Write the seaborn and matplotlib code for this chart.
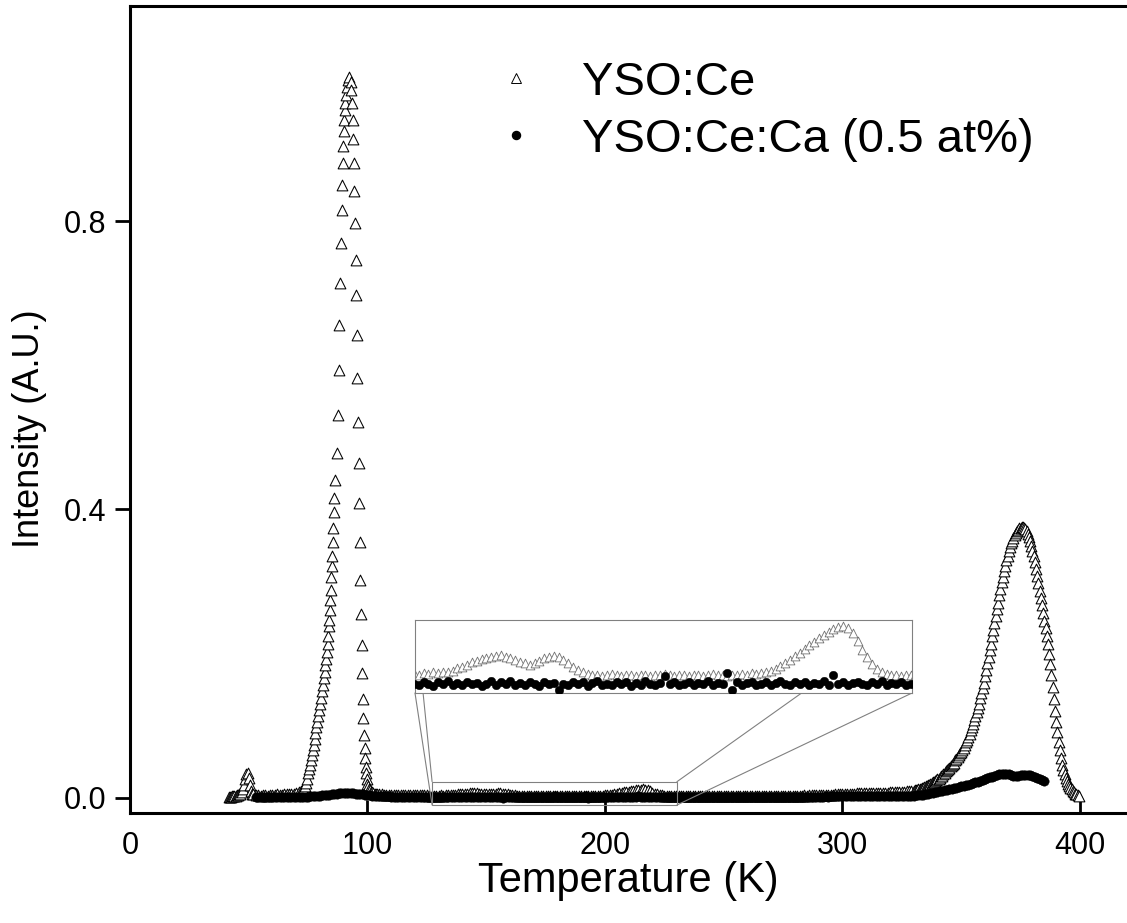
import numpy as np
import pandas as pd
import matplotlib
matplotlib.use("Agg")
import matplotlib.pyplot as plt
from matplotlib.lines import Line2D
from matplotlib.patches import Rectangle
import seaborn as sns

# ---------------- data ----------------
series_names = ["YSO:Ce", "YSO:Ce:Ca (0.5 at%)"]

# YSO:Ce (open triangles)
ce_T_a = np.arange(41.5, 52.01, 0.5)
ce_I_a = [0.002, 0.002, 0.002, 0.003, 0.003, 0.003, 0.003, 0.004, 0.004, 0.005, 0.006,
          0.008, 0.012, 0.018, 0.026, 0.033, 0.034, 0.028, 0.018, 0.010, 0.006, 0.005]
ce_T_b = np.arange(53, 73.01, 1.0)
ce_I_b = [0.004, 0.004, 0.003, 0.004, 0.004, 0.003, 0.004, 0.004, 0.004, 0.005, 0.004,
          0.004, 0.005, 0.005, 0.005, 0.006, 0.006, 0.007, 0.008, 0.010, 0.013]
ce_T_rise = [73.7, 74.1, 74.5, 74.9, 75.3, 75.7, 76.1, 76.5, 76.9, 77.3, 77.7, 78.1, 78.5,
             78.9, 79.3, 79.7, 80.1, 80.5, 80.9, 81.3, 81.7, 82.0, 82.3, 82.6, 82.9, 83.2,
             83.5, 83.8, 84.0, 84.2, 84.4, 84.6, 84.8, 85.0, 85.2, 85.4, 85.6, 85.8, 86.1,
             86.5, 87.1, 87.6, 87.9, 88.2, 88.5, 88.8, 89.1, 89.3, 89.5, 89.7, 89.9, 90.2,
             90.4, 90.6, 90.8, 91.2, 91.6, 92.3]
ce_I_rise = [0.016, 0.021, 0.027, 0.034, 0.040, 0.046, 0.053, 0.060, 0.067, 0.074, 0.082,
             0.090, 0.098, 0.106, 0.114, 0.122, 0.130, 0.139, 0.148, 0.157, 0.166, 0.175,
             0.184, 0.193, 0.203, 0.213, 0.224, 0.238, 0.247, 0.261, 0.275, 0.289, 0.306,
             0.322, 0.336, 0.355, 0.374, 0.396, 0.416, 0.441, 0.478, 0.531, 0.593, 0.656,
             0.714, 0.770, 0.815, 0.850, 0.880, 0.904, 0.925, 0.940, 0.954, 0.964, 0.975,
             0.986, 0.995, 1.000]
ce_T_fall = np.arange(93.0, 100.26, 0.25)
ce_I_fall = [0.993, 0.981, 0.964, 0.940, 0.914, 0.880, 0.841, 0.797, 0.746, 0.697,
             0.642, 0.582, 0.522, 0.464, 0.409, 0.355, 0.302, 0.255, 0.212, 0.173,
             0.137, 0.111, 0.087, 0.069, 0.055, 0.043, 0.034, 0.027, 0.020, 0.016]
ce_T_tail = np.arange(100.5, 104.01, 0.5)
ce_I_tail = [0.013, 0.011, 0.009, 0.008, 0.007, 0.006, 0.006, 0.005]
ce_T_base = np.arange(105, 329.01, 1.0)
ce_I_base = [
    # 105-126
    0.0050, 0.0049, 0.0048, 0.0046, 0.0045, 0.0044, 0.0042, 0.0041, 0.0040, 0.0040, 0.0039,
    0.0038, 0.0038, 0.0037, 0.0037, 0.0036, 0.0036, 0.0035, 0.0036, 0.0035, 0.0035, 0.0034,
    # 127-134
    0.0033, 0.0031, 0.0034, 0.0032, 0.0035, 0.0033, 0.0036, 0.0035,
    # 135-151
    0.0038, 0.0042, 0.0045, 0.0049, 0.0053, 0.0056, 0.0059, 0.0061, 0.0063, 0.0065, 0.0066,
    0.0063, 0.0060, 0.0057, 0.0054, 0.0051, 0.0049,
    # 152-163
    0.0051, 0.0055, 0.0060, 0.0063, 0.0064, 0.0062, 0.0058, 0.0052, 0.0045, 0.0039, 0.0035, 0.0032,
    # 164-200
    0.0030, 0.0031, 0.0029, 0.0030, 0.0032, 0.0030, 0.0029, 0.0031, 0.0030, 0.0028,
    0.0031, 0.0030, 0.0029, 0.0031, 0.0030, 0.0032, 0.0030, 0.0029, 0.0031, 0.0030,
    0.0028, 0.0030, 0.0031, 0.0029, 0.0030, 0.0032, 0.0031, 0.0030, 0.0029, 0.0031,
    0.0030, 0.0032, 0.0031, 0.0033, 0.0032, 0.0034, 0.0035,
    # 201-225
    0.0037, 0.0041, 0.0046, 0.0052, 0.0058, 0.0064, 0.0070, 0.0077, 0.0084, 0.0090,
    0.0096, 0.0102, 0.0108, 0.0113, 0.0117, 0.0119, 0.0115, 0.0105, 0.0091, 0.0076,
    0.0062, 0.0050, 0.0041, 0.0035, 0.0032,
    # 226-230
    0.0030, 0.0031, 0.0029, 0.0030, 0.0031,
    # 231-300
    0.0030, 0.0029, 0.0031, 0.0030, 0.0030, 0.0032, 0.0030, 0.0029, 0.0031, 0.0030,
    0.0030, 0.0031, 0.0029, 0.0030, 0.0031, 0.0030, 0.0032, 0.0030, 0.0029, 0.0030,
    0.0031, 0.0030, 0.0030, 0.0029, 0.0031, 0.0030, 0.0032, 0.0031, 0.0030, 0.0030,
    0.0031, 0.0029, 0.0030, 0.0031, 0.0030, 0.0032, 0.0030, 0.0031, 0.0030, 0.0031,
    0.0032, 0.0031, 0.0030, 0.0032, 0.0031, 0.0033, 0.0032, 0.0031, 0.0033, 0.0032,
    0.0034, 0.0033, 0.0034, 0.0035, 0.0034, 0.0036, 0.0035, 0.0037, 0.0038, 0.0038,
    0.0040, 0.0041, 0.0042, 0.0044, 0.0045, 0.0047, 0.0049, 0.0051, 0.0053, 0.0056,
    # 301-329
    0.0058, 0.0059, 0.0060, 0.0061, 0.0062, 0.0063, 0.0064, 0.0065, 0.0066, 0.0067,
    0.0068, 0.0069, 0.0070, 0.0071, 0.0072, 0.0073, 0.0074, 0.0075, 0.0076, 0.0078,
    0.0080, 0.0082, 0.0084, 0.0086, 0.0088, 0.0090, 0.0093, 0.0096, 0.0099]
ce_T_hi = np.arange(330.0, 399.51, 0.5)
ce_I_hi = [
    0.0102, 0.0105, 0.0110, 0.0115, 0.0120, 0.0125, 0.0130, 0.0138, 0.0145, 0.0150,
    0.0160, 0.0168, 0.0175, 0.0185, 0.0195, 0.0205, 0.0215, 0.0225, 0.0235, 0.0245,
    0.026, 0.027, 0.028, 0.030, 0.031, 0.033, 0.035, 0.037, 0.039, 0.040,
    0.042, 0.044, 0.046, 0.047, 0.049, 0.052, 0.054, 0.057, 0.059, 0.062,
    0.064, 0.067, 0.070, 0.073, 0.077, 0.081, 0.085, 0.089, 0.094, 0.098,
    0.103, 0.108, 0.113, 0.119, 0.125, 0.131, 0.138, 0.145, 0.152, 0.160,
    0.169, 0.178, 0.187, 0.196, 0.205, 0.214, 0.224, 0.233, 0.243, 0.252,
    0.262, 0.271, 0.281, 0.290, 0.299, 0.307, 0.315, 0.322, 0.330, 0.336,
    0.343, 0.348, 0.353, 0.357, 0.361, 0.364, 0.367, 0.370, 0.372, 0.374,
    0.375, 0.376, 0.376, 0.375, 0.373, 0.370, 0.366, 0.362, 0.356, 0.349,
    0.342, 0.335, 0.327, 0.318, 0.308, 0.298, 0.287, 0.277, 0.267, 0.257,
    0.246, 0.236, 0.225, 0.214, 0.200, 0.186, 0.170, 0.154, 0.137, 0.121,
    0.106, 0.092, 0.078, 0.066, 0.055, 0.046, 0.039, 0.033, 0.028, 0.024,
    0.020, 0.017, 0.014, 0.012, 0.010, 0.008, 0.006, 0.005, 0.004, 0.003]

# YSO:Ce:Ca (0.5 at%) (filled circles)
ca_T = np.arange(53, 385.01, 1.0)
ca_I = [
    # 53-72
    0.0010, 0.0008, 0.0012, 0.0009, 0.0011, 0.0010, 0.0012, 0.0009, 0.0011, 0.0013,
    0.0010, 0.0012, 0.0011, 0.0013, 0.0012, 0.0014, 0.0013, 0.0015, 0.0014, 0.0016,
    # 73-82
    0.0017, 0.0018, 0.0020, 0.0021, 0.0023, 0.0025, 0.0028, 0.0031, 0.0035, 0.0039,
    # 83-100
    0.0043, 0.0048, 0.0053, 0.0058, 0.0062, 0.0066, 0.0069, 0.0071, 0.0072, 0.0071,
    0.0069, 0.0066, 0.0062, 0.0058, 0.0053, 0.0049, 0.0045, 0.0041,
    # 101-126
    0.0037, 0.0034, 0.0031, 0.0029, 0.0027, 0.0025, 0.0024, 0.0022, 0.0021, 0.0020,
    0.0019, 0.0019, 0.0018, 0.0018, 0.0017, 0.0017, 0.0016, 0.0017, 0.0016, 0.0015,
    0.0016, 0.0015, 0.0016, 0.0015, 0.0014, 0.0015,
    # 127-230
    0.0015, 0.0012, 0.0018, 0.0014, 0.0011, 0.0017, 0.0015, 0.0019, 0.0013, 0.0016,
    0.0012, 0.0018, 0.0014, 0.0016, 0.0011, 0.0015, 0.0019, 0.0013, 0.0017, 0.0014,
    0.0020, 0.0013, 0.0016, 0.0012, 0.0017, 0.0015, 0.0011, 0.0018, 0.0014, 0.0016,
    0.0004, 0.0015, 0.0012, 0.0018, 0.0014, 0.0017, 0.0011, 0.0016, 0.0019, 0.0013,
    0.0015, 0.0012, 0.0017, 0.0014, 0.0018, 0.0011, 0.0016, 0.0013, 0.0019, 0.0015,
    0.0012, 0.0016, 0.0029, 0.0014, 0.0017, 0.0012, 0.0015, 0.0018, 0.0013, 0.0016,
    0.0014, 0.0019, 0.0012, 0.0016, 0.0015, 0.0034, 0.0003, 0.0017, 0.0013, 0.0016,
    0.0018, 0.0012, 0.0015, 0.0017, 0.0013, 0.0016, 0.0019, 0.0014, 0.0012, 0.0017,
    0.0015, 0.0018, 0.0013, 0.0016, 0.0014, 0.0019, 0.0012, 0.0030, 0.0015, 0.0017,
    0.0013, 0.0016, 0.0018, 0.0014, 0.0012, 0.0017, 0.0015, 0.0019, 0.0013, 0.0016,
    0.0014, 0.0017, 0.0012, 0.0015,
    # 231-329
    0.0015, 0.0013, 0.0016, 0.0014, 0.0015, 0.0017, 0.0014, 0.0016, 0.0015, 0.0013,
    0.0016, 0.0015, 0.0014, 0.0017, 0.0015, 0.0013, 0.0016, 0.0015, 0.0017, 0.0014,
    0.0015, 0.0016, 0.0014, 0.0015, 0.0017, 0.0015, 0.0014, 0.0016, 0.0015, 0.0016,
    0.0014, 0.0016, 0.0015, 0.0017, 0.0015, 0.0016, 0.0014, 0.0016, 0.0017, 0.0015,
    0.0016, 0.0015, 0.0017, 0.0016, 0.0015, 0.0017, 0.0016, 0.0018, 0.0017, 0.0016,
    0.0017, 0.0018, 0.0017, 0.0019, 0.0018, 0.0017, 0.0019, 0.0018, 0.0020, 0.0019,
    0.0019, 0.0020, 0.0021, 0.0020, 0.0021, 0.0022, 0.0021, 0.0022, 0.0023, 0.0022,
    0.0023, 0.0024, 0.0023, 0.0024, 0.0025, 0.0024, 0.0025, 0.0026, 0.0025, 0.0026,
    0.0026, 0.0027, 0.0026, 0.0027, 0.0028, 0.0027, 0.0028, 0.0029, 0.0028, 0.0029,
    0.0029, 0.0030, 0.0029, 0.0030, 0.0031, 0.0030, 0.0031, 0.0032, 0.0031,
    # 330-385
    0.0033, 0.0036, 0.0040, 0.0044, 0.0048, 0.0053, 0.0058, 0.0064, 0.0070, 0.0077,
    0.0084, 0.0091, 0.0098, 0.0105, 0.0112, 0.0120, 0.0128, 0.0136, 0.0144, 0.0152,
    0.0160, 0.0168, 0.0177, 0.0186, 0.0195, 0.0205, 0.0215, 0.0226, 0.0237, 0.0249,
    0.0261, 0.0273, 0.0285, 0.0297, 0.0308, 0.0318, 0.0326, 0.0332, 0.0335, 0.0333,
    0.0326, 0.0316, 0.0308, 0.0305, 0.0309, 0.0316, 0.0322, 0.0325, 0.0324, 0.0319,
    0.0310, 0.0298, 0.0284, 0.0268, 0.0250, 0.0230]

x_ticks = [0, 100, 200, 300, 400]
y_ticks = [0.0, 0.4, 0.8]
x_label = "Temperature (K)"
y_label = "Intensity (A.U.)"

# zoom window (source region) and inset placement in data units
zoom_x = (127.2, 230.3)
zoom_y = (-0.0097, 0.0226)
inset_x = (120.0, 329.3)
inset_y = (0.1456, 0.2468)
inset_ylim = (-0.0002, 0.0129)

# ---------------- assemble ----------------
ce = pd.DataFrame({
    "T": np.concatenate([ce_T_a, ce_T_b, ce_T_rise, ce_T_fall, ce_T_tail, ce_T_base, ce_T_hi]),
    "I": np.concatenate([ce_I_a, ce_I_b, ce_I_rise, ce_I_fall, ce_I_tail, ce_I_base, ce_I_hi]),
})
ca = pd.DataFrame({"T": ca_T, "I": ca_I})

sns.set_theme(style="ticks")
plt.rcParams["font.family"] = ["Liberation Sans", "DejaVu Sans"]
plt.rcParams["axes.edgecolor"] = "black"
plt.rcParams["xtick.color"] = "black"
plt.rcParams["ytick.color"] = "black"
plt.rcParams["text.color"] = "black"
plt.rcParams["axes.labelcolor"] = "black"

fig = plt.figure(figsize=(11.27, 9.23), dpi=100)
ax = fig.add_axes([0.11535, 0.11918, 0.88465, 0.87432])

sns.scatterplot(data=ce, x="T", y="I", marker="^", s=60, facecolor="white",
                edgecolor="black", linewidth=0.75, ax=ax, legend=False, zorder=2)
sns.scatterplot(data=ca, x="T", y="I", marker="o", s=46, facecolor="black",
                edgecolor="black", linewidth=0.3, ax=ax, legend=False, zorder=3)

ax.set_xlim(0, 419.8)
ax.set_ylim(-0.0208, 1.0981)
ax.set_xticks(x_ticks)
ax.set_xticklabels([str(v) for v in x_ticks])
ax.set_yticks(y_ticks)
ax.set_yticklabels([f"{v:.1f}" for v in y_ticks])
ax.tick_params(axis="x", direction="in", length=9.5, width=2.0, labelsize=22, pad=13)
ax.tick_params(axis="y", direction="out", length=11, width=2.0, labelsize=22, pad=6)
for side in ["left", "bottom", "top"]:
    ax.spines[side].set_linewidth(2.2)
ax.spines["right"].set_visible(False)

ax.set_xlabel(x_label, fontsize=30)
ax.set_ylabel(y_label, fontsize=26)
ax.xaxis.label.set_va("center")
ax.xaxis.set_label_coords(0.5, -0.084)
ax.yaxis.label.set_va("center")
ax.yaxis.set_label_coords(-0.1013, 0.476)

# legend
handles = [
    Line2D([], [], ls="none", marker="^", ms=6.5, mfc="white", mec="black", mew=0.7),
    Line2D([], [], ls="none", marker="o", ms=5.8, mfc="black", mec="black"),
]
ax.legend(handles, series_names, loc="upper left", frameon=False, fontsize=34,
          bbox_to_anchor=(492 / 1127, 1 - 61 / 923), bbox_transform=fig.transFigure,
          borderpad=0, borderaxespad=0, handlelength=1.0, handletextpad=0.9,
          labelspacing=0.27, numpoints=1)

# zoom source rectangle and connectors
grey = "#808080"
ax.add_patch(Rectangle((zoom_x[0], zoom_y[0]), zoom_x[1] - zoom_x[0], zoom_y[1] - zoom_y[0],
                       fill=False, ec=grey, lw=0.8, zorder=5))
ax.plot([inset_x[0], zoom_x[0]], [inset_y[0], zoom_y[0]], color=grey, lw=0.8, zorder=5)
ax.plot([inset_x[0] + 3.4, zoom_x[0]], [inset_y[0], zoom_y[1]], color=grey, lw=0.8, zorder=5)
ax.plot([282.8, zoom_x[1]], [inset_y[0], zoom_y[1]], color=grey, lw=0.8, zorder=5)
ax.plot([inset_x[1], zoom_x[1]], [inset_y[0], zoom_y[0]], color=grey, lw=0.8, zorder=5)

# inset
axins = ax.inset_axes([inset_x[0], inset_y[0], inset_x[1] - inset_x[0], inset_y[1] - inset_y[0]],
                      transform=ax.transData)
sns.scatterplot(data=ce, x="T", y="I", marker="^", s=40, facecolor="white",
                edgecolor="#707070", linewidth=0.6, ax=axins, legend=False, zorder=2)
sns.scatterplot(data=ca, x="T", y="I", marker="o", s=38, facecolor="black",
                edgecolor="black", linewidth=0.3, ax=axins, legend=False, zorder=3)
axins.set_xlim(*zoom_x)
axins.set_ylim(*inset_ylim)
axins.set_xticks([])
axins.set_yticks([])
axins.set_xlabel("")
axins.set_ylabel("")
for sp in axins.spines.values():
    sp.set_color(grey)
    sp.set_linewidth(0.8)
    sp.set_visible(True)

fig.savefig("out.png", dpi=100)
